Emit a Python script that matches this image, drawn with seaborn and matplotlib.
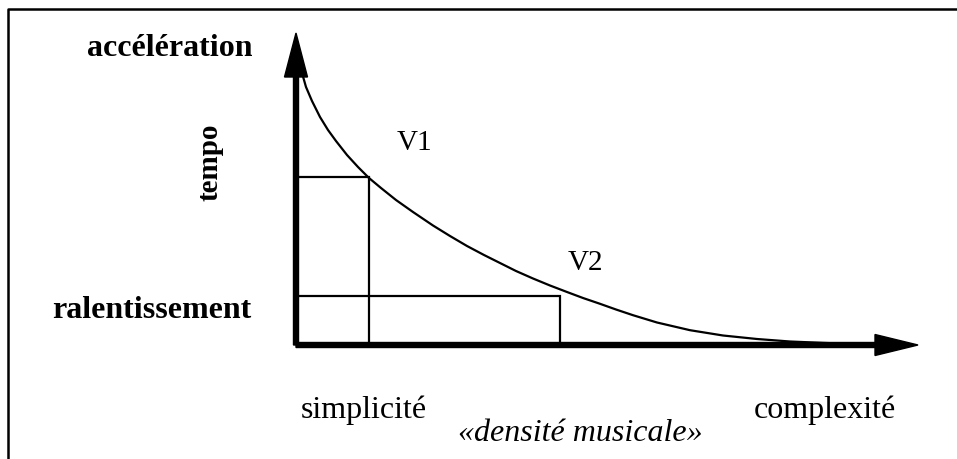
import numpy as np
import pandas as pd
import matplotlib
matplotlib.use("Agg")
import matplotlib.pyplot as plt
import seaborn as sns

# ---- data (units: densité -> right, tempo -> up) ----
curve_x = [6, 10, 16, 24, 32, 40, 51, 62, 73, 85, 100, 117, 137, 154, 171, 188,
           204, 220, 237, 254, 271, 287, 304, 320, 337, 361, 394, 427, 461, 494,
           530, 560]
curve_y = [272, 258, 244, 228, 215, 204, 190, 178, 167, 157, 145, 133, 119.5,
           109, 99, 90, 82, 74, 66.5, 59.5, 53, 47, 41.2, 35.5, 29.8, 22.5, 14.8,
           9.5, 6, 3.5, 2, 1]
points_x = [73, 264]          # V1, V2 densité
points_y = [168, 49]          # V1, V2 tempo
point_labels = ["V1", "V2"]
x_labels = ["simplicité", "complexité"]
y_labels = ["accélération", "ralentissement"]
x_title = "«densité musicale»"
y_title = "tempo"

sns.set_theme(style="white")
plt.rcParams["font.family"] = ["Liberation Serif", "DejaVu Serif"]
plt.rcParams["text.color"] = "black"

fig = plt.figure(figsize=(9.57, 4.60), dpi=100)
ax = fig.add_axes([0, 0, 1, 1])
ax.set_xlim(-296, 661)
ax.set_ylim(-114, 346)
ax.set_axis_off()

# frame (top and left only)
ax.plot([-288, -288, 661], [-114, 336, 336], color="black", lw=1.8,
        clip_on=False, solid_capstyle="butt")

# curve
df = pd.DataFrame({"x": curve_x, "y": curve_y})
sns.lineplot(data=df, x="x", y="y", ax=ax, color="black", lw=1.6,
             sort=False, estimator=None, zorder=2)

# guide rectangles
for px, py in zip(points_x, points_y):
    ax.plot([0, px, px], [py, py, 0], color="black", lw=1.6, zorder=2,
            solid_joinstyle="miter")

# axes arrows
ax.arrow(0, 0, 622, 0, width=5, head_width=21, head_length=43,
         length_includes_head=True, color="black", zorder=3)
ax.arrow(0, 0, 0, 312, width=5, head_width=23, head_length=44,
         length_includes_head=True, color="black", zorder=3)

# point labels
for px, py, lab, dx, dy in zip(points_x, points_y, point_labels, [45, 25], [35, 34]):
    ax.text(px + dx, py + dy, lab, fontsize=21, ha="center", va="center",
            color="black")

# axis end labels
ax.text(-126, 298, y_labels[0], fontsize=23, fontweight="bold", ha="center",
        va="center", color="black")
ax.text(-144, 35, y_labels[1], fontsize=23, fontweight="bold", ha="center",
        va="center", color="black")
ax.text(-86, 184, y_title, fontsize=21, fontweight="bold", ha="center",
        va="center", rotation=90, color="black")
ax.text(68, -64, x_labels[0], fontsize=23, ha="center", va="center", color="black")
ax.text(529, -64, x_labels[1], fontsize=23, ha="center", va="center", color="black")
ax.text(284, -88, x_title, fontsize=23, style="italic", ha="center", va="center",
        color="black")

fig.savefig("out.png", dpi=100, facecolor="white")
